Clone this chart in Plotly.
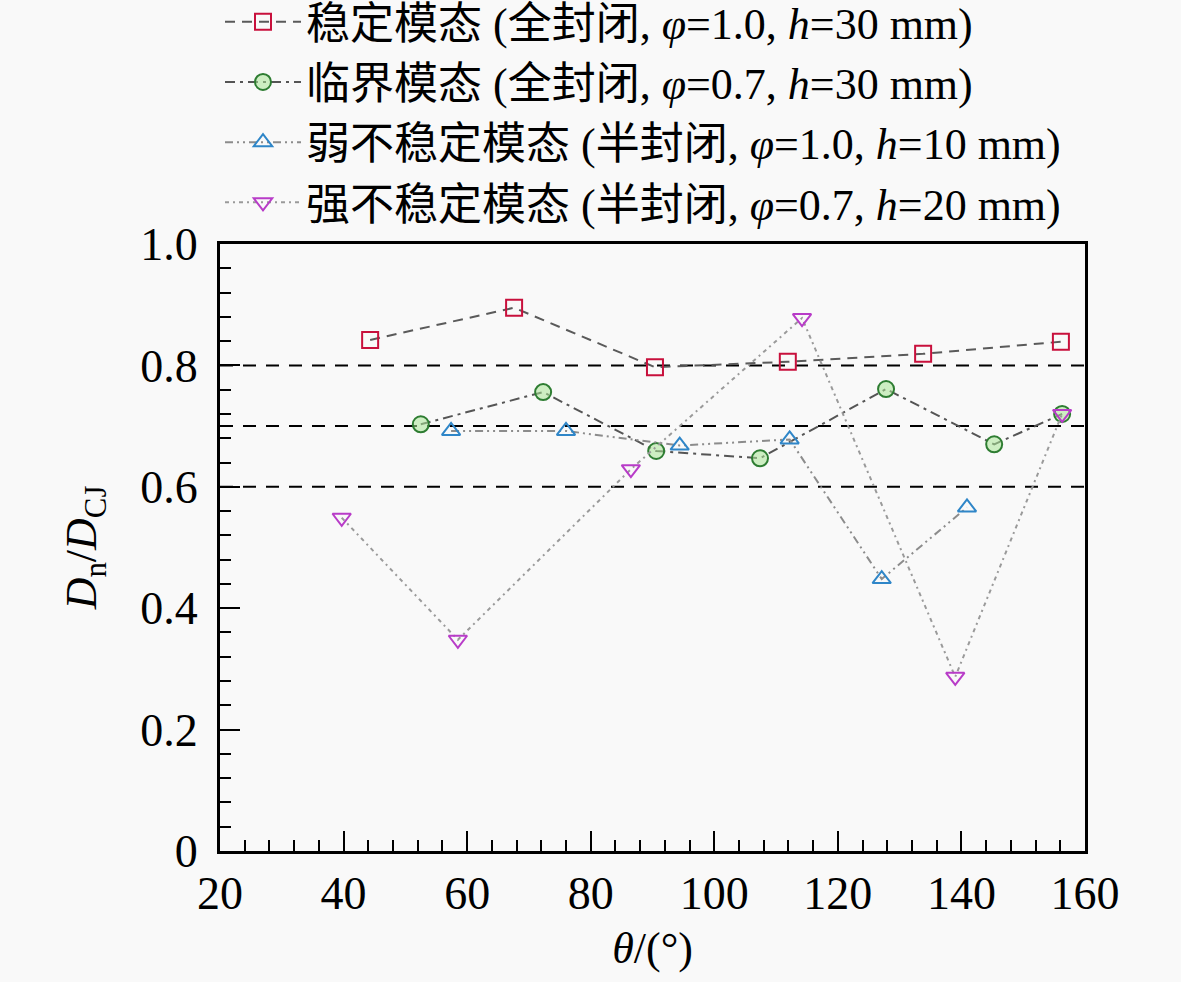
import plotly.graph_objects as go

# dados (θ em graus, Dn/DCJ)
stable_theta = [44.3, 67.6, 90.4, 111.9, 133.8, 156.1]
stable_ratio = [0.842, 0.895, 0.797, 0.806, 0.819, 0.839]

critical_theta = [52.5, 72.3, 90.6, 107.4, 127.8, 145.3, 156.3]
critical_ratio = [0.703, 0.756, 0.659, 0.647, 0.761, 0.670, 0.720]

weak_theta = [57.4, 76.0, 94.4, 112.2, 127.1, 140.9]
weak_ratio = [0.692, 0.692, 0.668, 0.678, 0.448, 0.566]

strong_theta = [39.7, 58.5, 86.5, 114.2, 139.0, 156.3]
strong_ratio = [0.549, 0.348, 0.629, 0.878, 0.287, 0.720]

ref_levels = [0.8, 0.7, 0.6]

y_tickvals = [0, 0.2, 0.4, 0.6, 0.8, 1.0]
y_ticktext = ["0", "0.2", "0.4", "0.6", "0.8", "1.0"]

mode_names = ["稳定模态", "临界模态", "弱不稳定模态", "强不稳定模态"]
closure = ["全封闭", "全封闭", "半封闭", "半封闭"]
phi = ["1.0", "0.7", "1.0", "0.7"]
h_mm = [30, 30, 10, 20]

FONT = "Liberation Serif, 'Noto Sans CJK SC', serif"

names = [
    f"{m} ({c}, <i>φ</i>={p}, <i>h</i>={h} mm)"
    for m, c, p, h in zip(mode_names, closure, phi, h_mm)
]

series = [
    (stable_theta, stable_ratio, "square-open", "#c8103c", "rgba(0,0,0,0)", "#5a5a5a", "10px,7px"),
    (critical_theta, critical_ratio, "circle", "#2e7d32", "rgba(170,230,150,0.55)", "#555555", "10px,5px,3px,5px"),
    (weak_theta, weak_ratio, "triangle-up-open", "#2f86c8", "rgba(0,0,0,0)", "#8c8c8c", "8px,4px,2px,4px,2px,4px"),
    (strong_theta, strong_ratio, "triangle-down-open", "#b83cc8", "rgba(0,0,0,0)", "#9a9a9a", "4px,4px,2px,4px"),
]

fig = go.Figure()

for i, (xs, ys, sym, mcol, mfill, lcol, dash) in enumerate(series):
    fig.add_trace(go.Scatter(
        x=xs, y=ys, mode="lines+markers", name=names[i],
        legendgroup=f"g{i}",
        line=dict(color=lcol, width=2, dash=dash),
        marker=dict(symbol=sym, size=16, color=mfill if sym == "circle" else mcol,
                    line=dict(color=mcol, width=2)),
    ))

for lvl in ref_levels:
    fig.add_shape(type="line", xref="paper", yref="y", x0=0, x1=1, y0=lvl, y1=lvl,
                  line=dict(color="black", width=2, dash="13px,10px"), layer="below")

axis_common = dict(
    showline=True, linecolor="black", linewidth=3, mirror=True,
    ticks="inside", ticklen=20, tickwidth=2, tickcolor="black",
    showgrid=False, zeroline=False,
    tickfont=dict(family=FONT, size=46, color="black"),
)

fig.update_xaxes(
    range=[20, 160], dtick=20, tick0=20,
    minor=dict(dtick=4, ticks="inside", ticklen=11, tickwidth=2, tickcolor="black"),
    title=dict(text="<i>θ</i>/(°)", font=dict(family=FONT, size=44, color="black"), standoff=14),
    **axis_common,
)
fig.update_yaxes(
    range=[0, 1.0], tickvals=y_tickvals, ticktext=y_ticktext,
    minor=dict(dtick=0.04, ticks="inside", ticklen=11, tickwidth=2, tickcolor="black"),
    ticklabelstandoff=10,
    title=dict(text="<i>D</i><sub>n</sub>/<i>D</i><sub>CJ</sub>",
               font=dict(family=FONT, size=44, color="black"), standoff=30),
    **axis_common,
)

fig.update_layout(
    width=1181, height=982,
    margin=dict(l=220, r=96, t=244, b=131, autoexpand=False),
    paper_bgcolor="#f9f9f9", plot_bgcolor="#f9f9f9",
    font=dict(family=FONT, color="black"),
    legend=dict(x=0.0, y=1.424, xanchor="left", yanchor="top",
                font=dict(family=FONT, size=44, color="black"),
                bgcolor="rgba(0,0,0,0)", itemwidth=76, tracegroupgap=0),
    showlegend=True,
)

# sem margem no body, para a figura ocupar a janela a partir do canto
fig.write_html("out.html", config={"displayModeBar": False},
               post_script="document.body.style.margin='0';")
